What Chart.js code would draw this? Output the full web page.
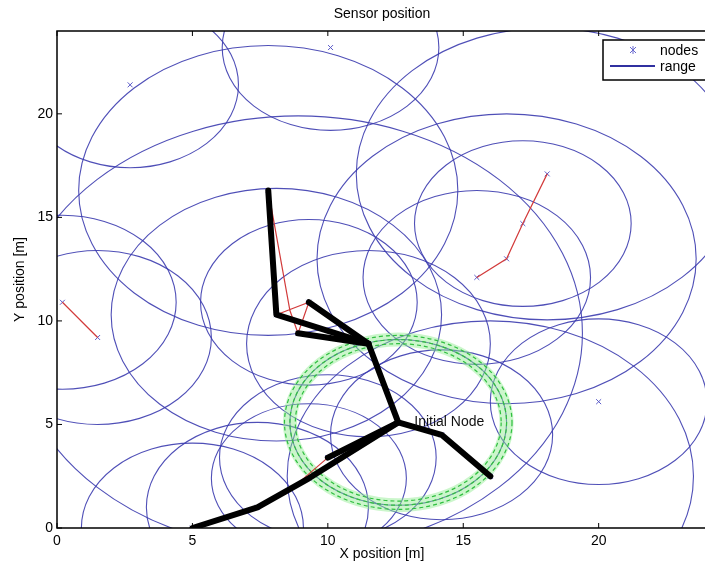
<!DOCTYPE html>
<html>
<head>
<meta charset="utf-8">
<script src="https://cdn.jsdelivr.net/npm/chart.js@4.4.1/dist/chart.umd.min.js"></script>
<style>
  html, body { margin: 0; padding: 0; background: #fff; overflow: hidden; }
  #wrap { width: 712px; height: 567px; }
</style>
</head>
<body>
<div id="wrap"><canvas id="sensorChart" width="712" height="567"></canvas></div>
<script>
// Sensor nodes [m] and radio range of each node [m]
const nodeX = [2.7, 10.1, 20.0, 7.8, 16.6, 18.1, 15.5, 17.2, 0.2, 1.5, 8.1, 9.3, 8.9, 11.5, 12.6, 14.2, 16.0, 5.0, 7.4, 9.3, 10.0];
const nodeY = [21.4, 23.2, 6.1, 16.3, 13.0, 17.1, 12.1, 14.7, 10.9, 9.2, 10.3, 10.9, 9.4, 8.9, 5.1, 4.5, 2.5, 0.0, 1.0, 2.4, 3.4];
const nodeRange = [4.0, 4.0, 4.0, 7.0, 7.0, 7.05, 4.2, 4.0, 4.2, 4.2, 6.1, 4.0, 10.5, 4.5, 4.0, 4.1, 7.5, 4.1, 4.1, 3.6, 4.0];

// Initial node and its highlighted range rings
const initialNode = [12.6, 5.1];
const ringRadii = [3.8, 4.0, 4.2];

// Routing tree (thick black)
const routeTop = [[7.8, 16.3], [8.1, 10.3], [11.5, 8.9], [12.6, 5.1], [14.2, 4.5], [16.0, 2.5]];
const routeMidA = [[9.3, 10.9], [11.5, 8.9]];
const routeMidB = [[8.9, 9.4], [11.5, 8.9]];
const routeLow = [[5.0, 0.0], [7.4, 1.0], [9.3, 2.4], [12.6, 5.1]];
const routeLowB = [[10.0, 3.4], [12.6, 5.1]];

// Other links (thin red)
const linkLeft = [[0.2, 10.9], [1.5, 9.2]];
const linkRight = [[18.1, 17.1], [17.2, 14.7], [16.6, 13.0], [15.5, 12.1]];
const linkMid = [[7.8, 16.3], [8.6, 10.5], [8.9, 9.4], [9.3, 10.9], [8.1, 10.3]];
const linkLow = [[8.4, 1.6], [10.0, 3.4]];

// Axis ticks
const xTicks = [0, 5, 10, 15, 20];
const yTicks = [0, 5, 10, 15, 20];

const FONT = "'Liberation Sans', Arial, sans-serif";
const toXY = pts => pts.map(p => ({ x: p[0], y: p[1] }));

const blackLine = pts => ({
  data: toXY(pts),
  showLine: true,
  borderColor: "#000",
  borderWidth: 6,
  pointRadius: 0,
  borderJoinStyle: "round",
  borderCapStyle: "round",
});

const redLine = pts => ({
  data: toXY(pts),
  showLine: true,
  borderColor: "#d23a3a",
  borderWidth: 1.2,
  pointRadius: 0,
});

const sensorPlugin = {
  id: "sensorPlugin",
  beforeDatasetsDraw(chart) {
    const { ctx, chartArea: a, scales: { x, y } } = chart;
    ctx.save();
    ctx.beginPath();
    ctx.rect(a.left, a.top, a.right - a.left, a.bottom - a.top);
    ctx.clip();

    // range circles
    ctx.strokeStyle = "rgba(60, 60, 175, 0.9)";
    ctx.lineWidth = 1.1;
    nodeX.forEach((nx, i) => {
      const cx = x.getPixelForValue(nx);
      const cy = y.getPixelForValue(nodeY[i]);
      const rx = x.getPixelForValue(nx + nodeRange[i]) - cx;
      const ry = cy - y.getPixelForValue(nodeY[i] + nodeRange[i]);
      ctx.beginPath();
      ctx.ellipse(cx, cy, rx, ry, 0, 0, Math.PI * 2);
      ctx.stroke();
    });

    // green rings around initial node
    const gx = x.getPixelForValue(initialNode[0]);
    const gy = y.getPixelForValue(initialNode[1]);
    const mid = ringRadii[1];
    ctx.strokeStyle = "rgba(140, 235, 140, 0.45)";
    ctx.lineWidth = 14;
    ctx.beginPath();
    ctx.ellipse(gx, gy, x.getPixelForValue(initialNode[0] + mid) - gx, gy - y.getPixelForValue(initialNode[1] + mid), 0, 0, Math.PI * 2);
    ctx.stroke();
    ctx.strokeStyle = "#2fbf3f";
    ctx.lineWidth = 1.2;
    ctx.setLineDash([4, 3]);
    ringRadii.forEach(r => {
      ctx.beginPath();
      ctx.ellipse(gx, gy, x.getPixelForValue(initialNode[0] + r) - gx, gy - y.getPixelForValue(initialNode[1] + r), 0, 0, Math.PI * 2);
      ctx.stroke();
    });
    ctx.restore();
  },
  afterDatasetsDraw(chart) {
    const { ctx, scales: { x, y } } = chart;
    ctx.save();
    ctx.fillStyle = "#111";
    ctx.font = "14px " + FONT;
    ctx.textBaseline = "middle";
    ctx.fillText("Initial Node", x.getPixelForValue(initialNode[0]) + 16, y.getPixelForValue(initialNode[1]));
    ctx.restore();
  },
  afterDraw(chart) {
    const { ctx, chartArea: a, scales: { x, y } } = chart;
    ctx.save();
    // axes box (left, bottom, top)
    ctx.strokeStyle = "#000";
    ctx.lineWidth = 1.5;
    ctx.beginPath();
    ctx.moveTo(a.right, a.top);
    ctx.lineTo(a.left, a.top);
    ctx.lineTo(a.left, a.bottom);
    ctx.lineTo(a.right, a.bottom);
    ctx.stroke();
    // inward ticks
    ctx.lineWidth = 1;
    xTicks.forEach(v => {
      const px = x.getPixelForValue(v);
      ctx.beginPath();
      ctx.moveTo(px, a.bottom); ctx.lineTo(px, a.bottom - 5);
      ctx.moveTo(px, a.top); ctx.lineTo(px, a.top + 5);
      ctx.stroke();
    });
    yTicks.forEach(v => {
      const py = y.getPixelForValue(v);
      ctx.beginPath();
      ctx.moveTo(a.left, py); ctx.lineTo(a.left + 5, py);
      ctx.stroke();
    });

    // title
    ctx.fillStyle = "#000";
    ctx.font = "14px " + FONT;
    ctx.textAlign = "center";
    ctx.textBaseline = "middle";
    ctx.fillText("Sensor position", (a.left + a.right) / 2, 14);

    // legend
    const lx = 603, ly = 40, lw = 110, lh = 40;
    ctx.fillStyle = "#fff";
    ctx.fillRect(lx, ly, lw, lh);
    ctx.strokeStyle = "#000";
    ctx.lineWidth = 1.5;
    ctx.strokeRect(lx, ly, lw, lh);
    ctx.strokeStyle = "#6a6ad0";
    ctx.lineWidth = 1;
    ctx.beginPath();
    ctx.moveTo(630, 47); ctx.lineTo(636, 53);
    ctx.moveTo(636, 47); ctx.lineTo(630, 53);
    ctx.moveTo(633, 46); ctx.lineTo(633, 54);
    ctx.stroke();
    ctx.strokeStyle = "#3030a0";
    ctx.lineWidth = 2;
    ctx.beginPath();
    ctx.moveTo(610, 66); ctx.lineTo(655, 66);
    ctx.stroke();
    ctx.fillStyle = "#000";
    ctx.font = "14px " + FONT;
    ctx.textAlign = "left";
    ctx.fillText("nodes", 660, 51);
    ctx.fillText("range", 660, 67);
    ctx.restore();
  },
};

const ctx = document.getElementById("sensorChart").getContext("2d");
const sensorChart = new Chart(ctx, {
  type: "scatter",
  data: {
    datasets: [
      blackLine(routeTop),
      blackLine(routeMidA),
      blackLine(routeMidB),
      blackLine(routeLow),
      blackLine(routeLowB),
      redLine(linkLeft),
      redLine(linkRight),
      redLine(linkMid),
      redLine(linkLow),
      {
        label: "nodes",
        data: nodeX.map((v, i) => ({ x: v, y: nodeY[i] })),
        pointStyle: "crossRot",
        pointRadius: 3.5,
        borderColor: "#5a5ac8",
        borderWidth: 1,
      },
    ],
  },
  options: {
    responsive: false,
    animation: false,
    devicePixelRatio: 1,
    layout: { padding: { top: 31, right: 3, left: 0, bottom: 0 } },
    plugins: {
      legend: { display: false },
      tooltip: { enabled: false },
    },
    scales: {
      x: {
        type: "linear",
        min: 0,
        max: 24,
        afterBuildTicks: s => { s.ticks = xTicks.map(v => ({ value: v })); },
        afterFit: s => { s.height = 39; },
        grid: { display: false, drawTicks: false },
        border: { display: false },
        ticks: { color: "#000", font: { family: FONT, size: 14 }, padding: 5, maxRotation: 0 },
        title: { display: true, text: "X position [m]", color: "#000", font: { family: FONT, size: 14 }, padding: { top: 0, bottom: 4 } },
      },
      y: {
        type: "linear",
        min: 0,
        max: 24,
        afterBuildTicks: s => { s.ticks = yTicks.map(v => ({ value: v })); },
        afterFit: s => { s.width = 57; },
        grid: { display: false, drawTicks: false },
        border: { display: false },
        ticks: { color: "#000", font: { family: FONT, size: 14 }, padding: 4 },
        title: { display: true, text: "Y position [m]", color: "#000", font: { family: FONT, size: 14 }, padding: { top: 12, bottom: 0 } },
      },
    },
  },
  plugins: [sensorPlugin],
});
</script>
</body>
</html>
